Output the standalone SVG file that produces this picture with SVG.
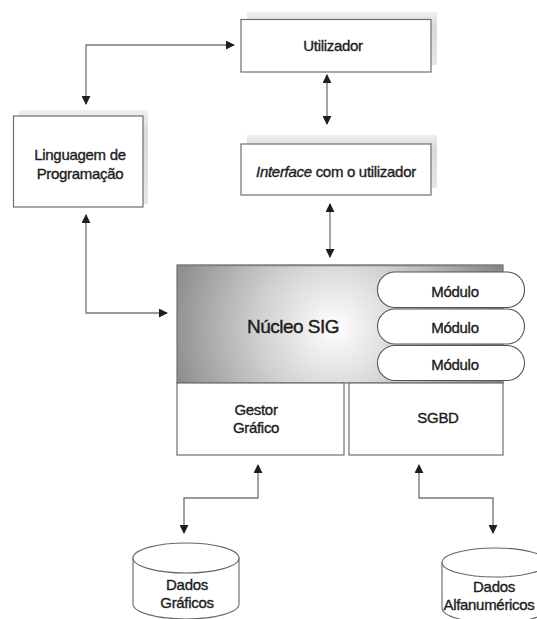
<svg xmlns="http://www.w3.org/2000/svg" width="537" height="619" viewBox="0 0 537 619">
  <style>
    .box { fill: #ffffff; stroke: #6e6e6e; stroke-width: 1.2; }
    .shadow { fill: url(#shade); }
    .lbl { font-family: "Liberation Sans", Arial, sans-serif; font-size: 15px; fill: #1c1c1c; stroke: #1c1c1c; stroke-width: 0.35px; text-anchor: middle; letter-spacing: -0.3px; }
    .big { font-size: 19px; letter-spacing: -0.5px; stroke-width: 0.4px; }
    .pill { fill: #ffffff; stroke: #555; stroke-width: 1.1; }
    .link { fill: none; stroke: #7a7a7a; stroke-width: 1.4; marker-start: url(#head); marker-end: url(#head); }
    .drum { fill: #ffffff; stroke: #666; stroke-width: 1.1; }
  </style>
  <defs>
    <linearGradient id="shade" x1="0" y1="0" x2="0" y2="1">
      <stop offset="0" stop-color="#f0f0f0"/>
      <stop offset="0.25" stop-color="#d9d9d9"/>
      <stop offset="1" stop-color="#e6e6e6"/>
    </linearGradient>
    <radialGradient id="core" gradientUnits="userSpaceOnUse" cx="335" cy="328" r="170">
      <stop offset="0" stop-color="#ffffff"/>
      <stop offset="0.45" stop-color="#d0d0d0"/>
      <stop offset="1" stop-color="#8a8a8a"/>
    </radialGradient>
    <marker id="head" viewBox="0 0 10 10" refX="9" refY="5" markerWidth="9" markerHeight="9" markerUnits="userSpaceOnUse" orient="auto-start-reverse">
      <path d="M0,0 L10,5 L0,10 z" fill="#1e1e1e"/>
    </marker>
  </defs>

  <rect width="537" height="619" fill="#ffffff"/>

  <!-- connectors -->
  <g id="connectors">
    <path class="link" d="M86,104 L86,45 L234,45"/>
    <path class="link" d="M327,75 L327,124"/>
    <path class="link" d="M330,204 L330,257"/>
    <path class="link" d="M86,215 L86,313 L167,313"/>
    <path class="link" d="M258,465 L258,498 L184,498 L184,533"/>
    <path class="link" d="M419,465 L419,498 L493,498 L493,533"/>
  </g>

  <!-- Utilizador -->
  <g id="utilizador">
    <rect class="shadow" x="247" y="12" width="190" height="53"/>
    <rect class="box" x="241" y="19.5" width="190" height="52.5"/>
    <text class="lbl" x="333" y="50.5">Utilizador</text>
  </g>

  <!-- Linguagem de Programação -->
  <g id="linguagem">
    <rect class="shadow" x="19" y="110" width="129" height="94"/>
    <rect class="box" x="13.5" y="116" width="129.5" height="91"/>
    <text class="lbl" x="80" y="160">Linguagem de</text>
    <text class="lbl" x="80" y="179">Programação</text>
  </g>

  <!-- Interface com o utilizador -->
  <g id="interface">
    <rect class="shadow" x="247" y="135" width="190" height="53"/>
    <rect class="box" x="241" y="144" width="190" height="51"/>
    <text class="lbl" x="336" y="177"><tspan font-style="italic">Interface</tspan> com o utilizador</text>
  </g>

  <!-- Núcleo SIG with modules -->
  <g id="nucleo">
    <rect x="177" y="265" width="326" height="118" fill="url(#core)" stroke="#707070" stroke-width="1.2"/>
    <line x1="177" y1="265.5" x2="503" y2="265.5" stroke="#808080" stroke-width="1.5"/>
    <text class="lbl big" x="293" y="333">Núcleo SIG</text>
  </g>
  <g id="modulo1">
    <rect class="pill" x="377.5" y="272" width="147" height="35.5" rx="17.5"/>
    <text class="lbl" x="455" y="296.5">Módulo</text>
  </g>
  <g id="modulo2">
    <rect class="pill" x="377.5" y="309" width="147" height="35" rx="17.5"/>
    <text class="lbl" x="455" y="333">Módulo</text>
  </g>
  <g id="modulo3">
    <rect class="pill" x="377.5" y="345.5" width="147" height="35" rx="17.5"/>
    <text class="lbl" x="455" y="369.5">Módulo</text>
  </g>

  <!-- Gestor Gráfico -->
  <g id="gestor">
    <rect class="box" x="177" y="383" width="167" height="72"/>
    <text class="lbl" x="256" y="415">Gestor</text>
    <text class="lbl" x="256" y="433">Gráfico</text>
  </g>

  <!-- SGBD -->
  <g id="sgbd">
    <rect class="box" x="349" y="383" width="154" height="72"/>
    <text class="lbl" x="438" y="423">SGBD</text>
  </g>

  <!-- Dados Gráficos -->
  <g id="dados-graficos">
    <path class="drum" d="M133,558 L133,604 A53,15 0 0 0 239,604 L239,558"/>
    <ellipse class="drum" cx="186" cy="558" rx="53" ry="15"/>
    <text class="lbl" x="187" y="590">Dados</text>
    <text class="lbl" x="187" y="608">Gráficos</text>
  </g>

  <!-- Dados Alfanuméricos (drum runs past the right edge) -->
  <g id="dados-alfanumericos">
    <path class="drum" d="M442,562.5 L442,608 A53,15 0 0 0 548,608 L548,562.5"/>
    <ellipse class="drum" cx="495" cy="562.5" rx="53" ry="14.5"/>
    <text class="lbl" x="494" y="592">Dados</text>
    <text class="lbl" x="489" y="610" font-size="14.5">Alfanuméricos</text>
  </g>
</svg>
